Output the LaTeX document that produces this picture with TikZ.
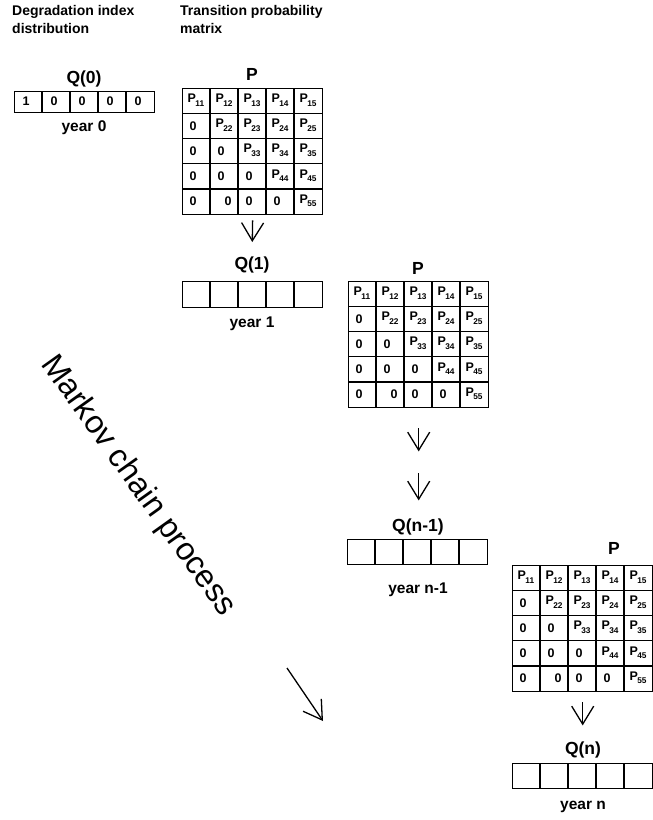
\documentclass[tikz,border=0pt]{standalone}
\usepackage{fontspec}
\setmainfont{Liberation Sans}
\usetikzlibrary{arrows.meta}
\newcommand\pe[1]{P\kern-0.6pt\raisebox{-3.6pt}{\fontsize{8.3}{8.3}\selectfont #1}}
\tikzset{
  gridline/.style={line width=1.4pt},
  boxnode/.style={draw, line width=1.4pt, anchor=north west, inner sep=0pt, minimum width=140pt},
  hdr/.style={font=\fontsize{14}{18.5}\selectfont\bfseries, align=left, anchor=north west, inner sep=0pt},
  qlab/.style={font=\fontsize{17.5}{17.5}\selectfont\bfseries, inner sep=0pt},
  ylab/.style={font=\fontsize{15.5}{15.5}\selectfont\bfseries, inner sep=0pt},
  ent/.style={font=\fontsize{12.5}{12.5}\selectfont\bfseries, inner sep=0pt},
  arr/.style={line width=1.3pt, -{Straight Barb[length=18pt,width=22pt]}},
}
% matrix: name, x0, y0
\newcommand\mymat[3]{%
  \node[boxnode, minimum height=126pt] (#1) at (#2,#3) {};
  \foreach \i in {1,...,4} {
    \draw[gridline] (#2+28*\i,#3) -- (#2+28*\i,#3+126);
    \draw[gridline] (#2,#3+25.2*\i) -- (#2+140,#3+25.2*\i);
  }
  \foreach \r/\c/\t in {1/1/11,1/2/12,1/3/13,1/4/14,1/5/15,2/2/22,2/3/23,2/4/24,2/5/25,3/3/33,3/4/34,3/5/35,4/4/44,4/5/45,5/5/55}
    \node[ent] (#1-\r-\c) at (#2+28*\c-14,#3+25.2*\r-13.2) {\pe{\t}};
  \foreach \r/\c in {2/1,3/1,3/2,4/1,4/2,4/3,5/1,5/3,5/4}
    \node[ent] (#1-\r-\c) at (#2+28*\c-17,#3+25.2*\r-12.6) {0};
  \node[ent] (#1-5-2) at (#2+28*2-10,#3+25.2*5-12.6) {0};
}
% vector: name, x0, y0, height
\newcommand\myvec[4]{%
  \node[boxnode, minimum height=#4pt] (#1) at (#2,#3) {};
  \foreach \i in {1,...,4}
    \draw[gridline] (#2+28*\i,#3) -- (#2+28*\i,#3+#4);
}
\begin{document}
\begin{tikzpicture}[x=1pt,y=-1pt]
\useasboundingbox (0,0) rectangle (653,820);
\fill[white] (0,0) rectangle (653,820);

% headers
\node[hdr] (h1) at (12,5) {Degradation index\\distribution};
\node[hdr] (h2) at (180,5) {Transition probability\\matrix};

% year 0
\node[qlab] (q0lab) at (84,79) {Q(0)};
\myvec{q0}{14}{91}{21}
\foreach \c/\v in {1/1,2/0,3/0,4/0,5/0}
  \node[ent] (q0-\c) at (14+28*\c-16,101.5) {\v};
\node[ylab] (y0) at (84,128) {year 0};

\node[qlab] (p1lab) at (252,74) {P};
\mymat{m1}{182}{88}

\draw[arr, shorten <=5pt, shorten >=17pt] (m1.south) -- (252,259);

% year 1
\node[qlab] (q1lab) at (252,265) {Q(1)};
\myvec{q1}{182}{281}{26}
\node[ylab] (y1) at (252,324) {year 1};

\node[qlab] (p2lab) at (418,268) {P};
\mymat{m2}{348}{281}

\draw[arr] ([yshift=-20pt]m2.south) -- ([yshift=-43pt]m2.south);
\node[qlab] (qn1lab) at (418,527) {Q(n-1)};
\draw[arr] ([yshift=-65pt]m2.south) -- ([yshift=-92pt]m2.south);

% year n-1
\myvec{qn1}{347}{539}{25}
\node[ylab] (yn1) at (418,590) {year n-1};

\node[qlab] (p3lab) at (614,548) {P};
\mymat{m3}{512}{565}

\draw[arr] ([yshift=-10pt]m3.south) -- ([yshift=-33pt]m3.south);

% year n
\node[qlab] (qnlab) at (583,750) {Q(n)};
\myvec{qn}{512}{763}{25}
\node[ylab] (yn) at (583,807) {year n};

% Markov chain process
\node[font=\fontsize{32}{32}\selectfont, rotate=-54.5, inner sep=0pt] (mk) at (138,486) {Markov chain process};
\coordinate (b1) at (287,668);
\coordinate (b2) at (323,721);
\draw[arr] (b1) -- (b2);
\end{tikzpicture}
\end{document}
